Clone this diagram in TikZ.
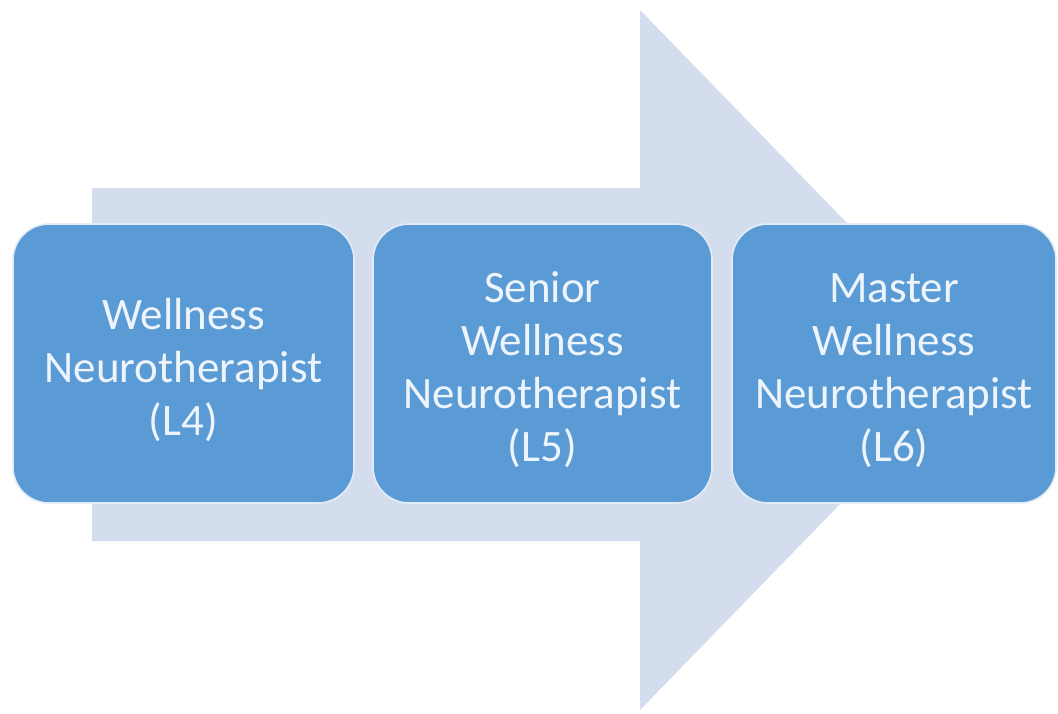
\documentclass[tikz,border=0pt]{standalone}
\usepackage{fontspec}
\setmainfont{Carlito}
\definecolor{arrowfill}{HTML}{D3DDEE}
\definecolor{boxfill}{HTML}{5B9BD5}
\definecolor{boxedge}{HTML}{E3ECF7}
\definecolor{boxtext}{HTML}{EEF4FB}
\newcommand{\toppad}{\rule{0pt}{44pt}}
\tikzset{
  levelbox/.style={rectangle, rounded corners=36pt, fill=boxfill, draw=boxedge,
    line width=1.6pt, inner sep=0pt, minimum height=279pt, align=center,
    text=boxtext, font=\fontsize{45}{53}\selectfont}
}
\begin{document}
\begin{tikzpicture}[x=1pt,y=-1pt]
\useasboundingbox (0,0) rectangle (1058,713);
\fill[white] (0,0) rectangle (1058,713);
% big arrow
\fill[arrowfill] (92,188) -- (640,188) -- (640,10) -- (980,360) -- (640,710)
  -- (640,541) -- (92,541) -- cycle;
% level boxes
\node[levelbox, minimum width=341pt] (l4) at (183.5,363.5)
  {\toppad Wellness\\Neurotherapist\\(L4)};
\node[levelbox, minimum width=339pt] (l5) at (542.5,363.5)
  {\toppad Senior\\Wellness\\Neurotherapist\\(L5)};
\node[levelbox, minimum width=324pt] (l6) at (894,363.5)
  {\toppad Master\\Wellness\\Neurotherapist\\(L6)};
\end{tikzpicture}
\end{document}
